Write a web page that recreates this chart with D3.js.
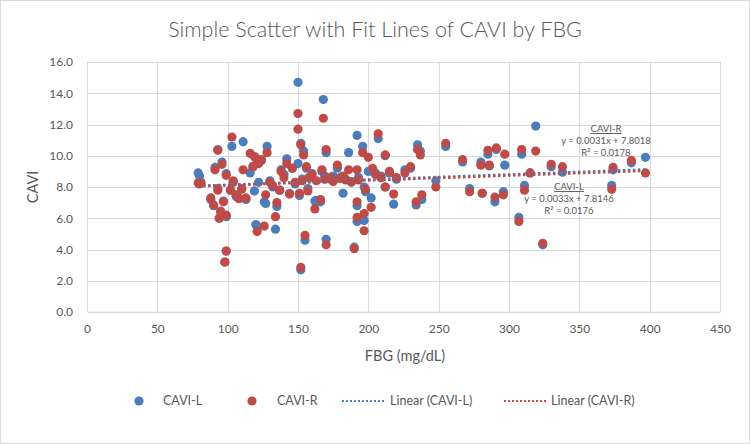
<!DOCTYPE html>
<html><head><meta charset="utf-8">
<script src="https://cdn.jsdelivr.net/npm/d3@7"></script>
<style>
body{margin:0;background:#fff}
svg{display:block}
text{font-family:Lato,"Liberation Sans",sans-serif;fill:#595959}
</style>
</head><body>
<svg id="chart" width="750" height="444"></svg>
<script>
// ---- data ----
const fbg   = [79,80,81,88,90,91,93,93,94,95,96,97,99,99,99,98,103,102,104,106,108,110,111,113,116,118,119,120,121,122,124,126,127,128,130,132,134,135,137,138,140,142,144,146,148,150,150,151,152,152,153,154,155,156,157,158,160,162,163,166,167,168,169,170,170,173,175,178,180,182,184,186,188,190,192,192,192,193,196,197,197,198,200,202,203,205,207,209,212,212,215,218,220,226,230,234,235,237,238,248,255,267,272,280,281,285,286,290,291,296,297,307,309,311,315,319,324,330,338,373,374,387,397];
const caviL = [8.9,8.7,8.3,7.2,6.8,9.25,10.4,7.9,6.0,6.4,9.6,7.1,8.85,6.1,3.9,3.2,10.6,7.8,8.3,7.4,7.3,7.9,10.9,7.2,8.9,9.3,7.75,5.6,5.45,8.3,9.7,7.05,6.95,10.6,8.4,8.0,5.3,6.75,7.8,9.1,8.8,9.8,7.6,9.2,8.2,14.7,9.5,7.45,10.8,2.7,8.5,10.3,4.6,9.2,7.9,8.6,8.85,7.1,7.15,7.05,9.0,13.6,8.7,4.65,10.2,8.5,8.7,9.2,8.6,7.6,8.5,10.2,8.3,4.15,11.3,6.8,5.8,8.6,10.6,5.85,8.0,7.7,9.0,7.3,9.0,8.9,11.1,8.7,10.0,8.0,8.9,6.9,8.5,9.1,9.2,6.85,10.7,10.3,7.2,8.4,10.6,9.6,7.9,9.6,7.6,10.1,9.35,7.05,10.4,7.7,9.4,6.05,10.1,8.1,8.9,11.9,4.3,9.3,8.95,8.1,9.1,9.55,9.9];
const caviR = [8.25,8.2,8.25,7.3,6.85,9.1,10.35,7.8,6.0,6.45,9.45,7.05,8.75,6.2,3.9,3.2,11.2,7.8,8.4,7.5,7.25,7.85,9.1,7.3,10.15,9.3,9.95,9.85,5.15,9.5,9.75,5.5,7.5,10.2,8.3,8.1,6.1,7.0,7.8,9.0,8.6,9.5,7.55,9.2,8.3,12.7,11.7,7.6,10.7,2.85,8.4,10.05,4.9,9.3,7.75,8.6,8.8,6.6,8.4,7.2,9.1,12.4,8.5,4.3,10.4,8.6,8.35,9.4,8.55,8.7,8.45,9.1,8.35,4.05,9.1,7.05,6.05,8.45,10.2,6.3,5.2,7.85,9.9,6.7,9.2,8.8,11.4,8.6,10.05,8.0,9.0,7.55,8.6,8.9,9.3,7.05,10.4,10.05,7.5,8.0,10.8,9.75,7.7,9.4,7.6,10.35,9.4,7.35,10.5,7.5,10.1,5.8,10.4,7.8,8.9,10.3,4.4,9.45,9.3,7.85,9.25,9.7,8.9];
const seriesNames = ["CAVI-L","CAVI-R"];
const fitSlope = [0.0033, 0.0031];
const fitIntercept = [7.8146, 7.8018];
const fitR2 = ["0.0176","0.0178"];
const xTicks = [0,50,100,150,200,250,300,350,400,450];
const yTicks = [0,2,4,6,8,10,12,14,16];
const titleText = "Simple Scatter with Fit Lines of CAVI by FBG";
const xTitle = "FBG (mg/dL)";
const yTitle = "CAVI";

// ---- styles ----
const colors = ["#4a7ebb","#be4b48"];
const svg = d3.select("#chart");
const W = 750, H = 444;
const plot = {l:87, r:720, t:62, b:312};

svg.append("rect").attr("x",0.5).attr("y",0.5).attr("width",W-1).attr("height",H-1)
  .attr("fill","#fff").attr("stroke","#d9d9d9");

const x = d3.scaleLinear().domain([0,450]).range([plot.l,plot.r]);
const y = d3.scaleLinear().domain([0,16]).range([plot.b,plot.t]);

// gridlines
const g = svg.append("g");
g.selectAll("line.h").data(yTicks.filter(d=>d>0)).join("line")
  .attr("x1",plot.l).attr("x2",plot.r).attr("y1",d=>Math.round(y(d))+0.5).attr("y2",d=>Math.round(y(d))+0.5)
  .attr("stroke","#d9d9d9").attr("stroke-width",1);
g.selectAll("line.v").data(xTicks).join("line")
  .attr("y1",plot.t).attr("y2",plot.b).attr("x1",d=>Math.round(x(d))+0.5).attr("x2",d=>Math.round(x(d))+0.5)
  .attr("stroke","#d9d9d9").attr("stroke-width",1);

// axes
const xAxis = d3.axisBottom(x).tickValues(xTicks).tickSize(0).tickPadding(12).tickFormat(d3.format("d"));
const xg = svg.append("g").attr("transform",`translate(0,${plot.b})`).call(xAxis);
xg.select(".domain").attr("stroke","#d9d9d9").attr("stroke-width",1.3);
xg.selectAll("text").attr("font-size",12).style("font-family","Lato").attr("fill","#595959");

const yAxis = d3.axisLeft(y).tickValues(yTicks).tickSize(0).tickPadding(14).tickFormat(d3.format(".1f"));
const yg = svg.append("g").attr("transform",`translate(${plot.l},0)`).call(yAxis);
yg.select(".domain").remove();
yg.selectAll("text").attr("font-size",12).style("font-family","Lato").attr("fill","#595959");

// points
const pts = fbg.map((f,i)=>({f, l:caviL[i], r:caviR[i]}));
[["l",0],["r",1]].forEach(([k,si])=>{
  svg.append("g").selectAll("circle").data(pts).join("circle")
    .attr("cx",d=>x(d.f)).attr("cy",d=>y(d[k])).attr("r",4.6)
    .attr("fill",colors[si]);
});

// trend lines
const xmin = d3.min(fbg), xmax = d3.max(fbg);
const line = d3.line().x(d=>x(d[0])).y(d=>y(d[1]));
[0,1].forEach(si=>{
  const seg = [xmin,xmax].map(v=>[v, fitSlope[si]*v+fitIntercept[si]]);
  svg.append("path").attr("d",line(seg)).attr("fill","none")
    .attr("stroke",colors[si]).attr("stroke-width",2.5).attr("stroke-dasharray","2.5,2.5");
});

// trend labels
const labPos = [{cx:569, y:190}, {cx:606, y:132}];
[1,0].forEach(si=>{
  const p = labPos[si];
  const t = svg.append("g").attr("font-size",9.5);
  t.append("text").attr("x",p.cx).attr("y",p.y).attr("text-anchor","middle")
    .attr("text-decoration","underline").text(seriesNames[si]);
  t.append("text").attr("x",p.cx).attr("y",p.y+12).attr("text-anchor","middle")
    .text(`y = ${fitSlope[si]}x + ${fitIntercept[si]}`);
  t.append("text").attr("x",p.cx).attr("y",p.y+23.5).attr("text-anchor","middle")
    .text(`R² = ${fitR2[si]}`);
});

// titles
svg.append("text").attr("x",375).attr("y",37).attr("text-anchor","middle")
  .attr("font-size",21.5).style("font-weight",300).text(titleText);
svg.append("text").attr("x",405).attr("y",361).attr("text-anchor","middle")
  .attr("font-size",14.5).text(xTitle);
svg.append("text").attr("transform","translate(38,187) rotate(-90)").attr("text-anchor","middle")
  .attr("font-size",14.5).text(yTitle);

// legend
const leg = svg.append("g").attr("font-size",12.5);
const legY = 401;
const legItems = [
  {type:"dot", si:0, sx:139, tx:163, label:seriesNames[0]},
  {type:"dot", si:1, sx:252, tx:277, label:seriesNames[1]},
  {type:"line", si:0, sx:342, tx:390, label:`Linear (${seriesNames[0]})`},
  {type:"line", si:1, sx:504, tx:551, label:`Linear (${seriesNames[1]})`}
];
legItems.forEach(it=>{
  if(it.type==="dot"){
    leg.append("circle").attr("cx",it.sx).attr("cy",legY).attr("r",4.6).attr("fill",colors[it.si]);
  } else {
    leg.append("line").attr("x1",it.sx).attr("x2",it.sx+42).attr("y1",legY).attr("y2",legY)
      .attr("stroke",colors[it.si]).attr("stroke-width",2).attr("stroke-dasharray","2,2");
  }
  leg.append("text").attr("x",it.tx).attr("y",legY+4).text(it.label);
});
</script>
</body></html>
